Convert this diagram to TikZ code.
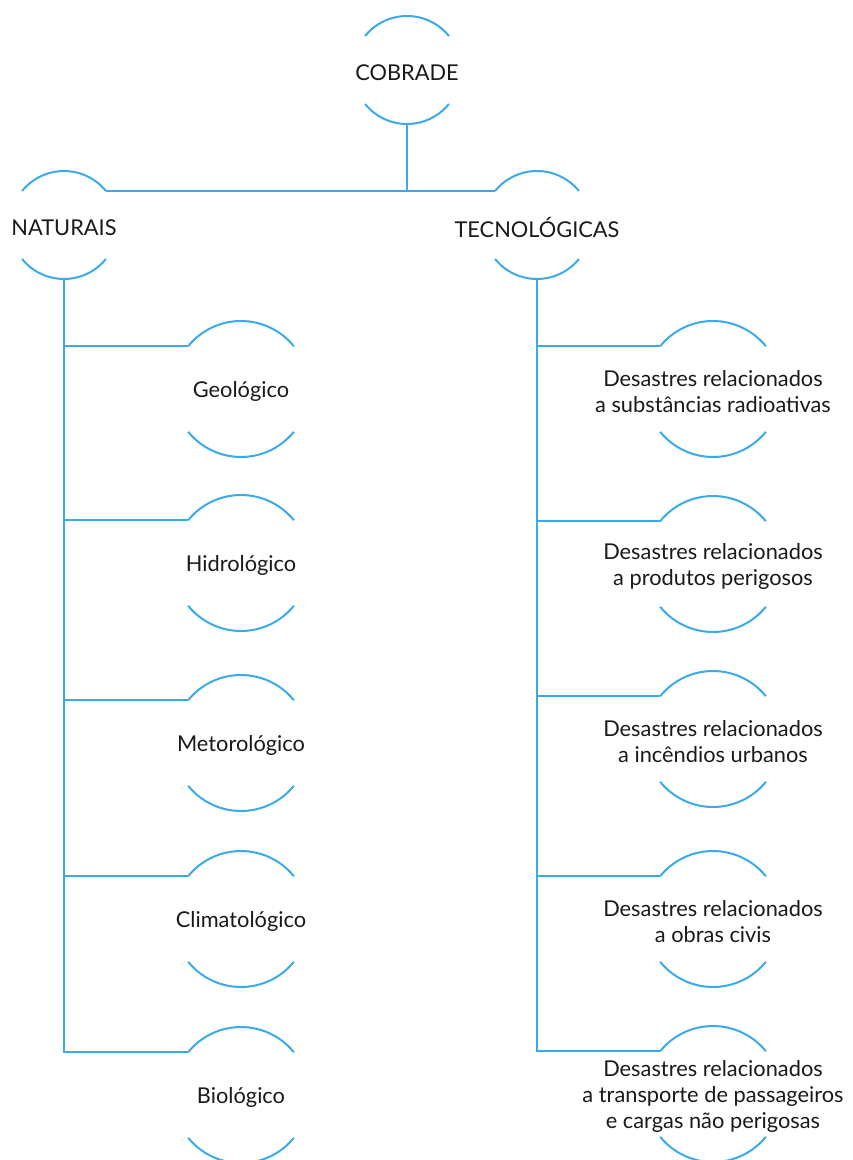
\documentclass[tikz,border=0pt]{standalone}
\usepackage{fontspec}
\setmainfont{Lato}
\definecolor{ringblue}{RGB}{58,170,232}
\definecolor{ink}{RGB}{26,26,26}
\tikzset{
  ring/.style={circle,minimum size=#1,inner sep=0pt,outer sep=0pt},
  txt/.style={text=ink,align=center,yshift=-1.3pt,font=\fontsize{10.9}{13}\selectfont},
  link/.style={ringblue,line width=1pt},
}
\begin{document}
\begin{tikzpicture}[x=0.5pt,y=0.5pt]
\useasboundingbox (0,0) rectangle (852,-1160);
% top levels
\node[ring=54pt] (cob) at (407,-70) {};
\node[txt] at (cob) {COBRADE};
\node[ring=54pt] (nat) at (64,-225) {};
\node[txt] at (nat) {NATURAIS};
\node[ring=54pt] (tec) at (537,-225) {};
\node[txt] at (tec) {TECNOLÓGICAS};
\foreach \n in {cob,nat,tec} {
 \draw[link] (\n.39) arc[start angle=39,end angle=141,radius=54];
 \draw[link] (\n.219) arc[start angle=219,end angle=321,radius=54];
}
\draw[link] (nat.39) -- (tec.141);
\draw[link] (cob.south) -- (cob.south |- nat.39);
% naturais
\foreach \n/\t/\y in {geo/Geológico/389, hid/Hidrológico/563, met/Metorológico/743, cli/Climatológico/919, bio/Biológico/1095} {
 \node[ring=68pt] (\n) at (241,-\y) {};
 \node[txt] at (\n) {\t};
 \draw[link] (\n.39) arc[start angle=39,end angle=141,radius=68];
 \draw[link] (\n.219) arc[start angle=219,end angle=321,radius=68];
 \draw[link] (nat.south) |- (\n.141);
}
% tecnologicas
\foreach \n/\t/\y in {rad/{Desastres relacionados\\a substâncias radioativas}/389,
                      pro/{Desastres relacionados\\a produtos perigosos}/564,
                      inc/{Desastres relacionados\\a incêndios urbanos}/739,
                      obr/{Desastres relacionados\\a obras civis}/919,
                      tra/{Desastres relacionados\\a transporte de passageiros\\e cargas não perigosas}/1094} {
 \node[ring=68pt] (\n) at (713,-\y) {};
 \node[txt] at (\n) {\t};
 \draw[link] (\n.39) arc[start angle=39,end angle=141,radius=68];
 \draw[link] (\n.219) arc[start angle=219,end angle=321,radius=68];
 \draw[link] (tec.south) |- (\n.141);
}
\end{tikzpicture}
\end{document}
